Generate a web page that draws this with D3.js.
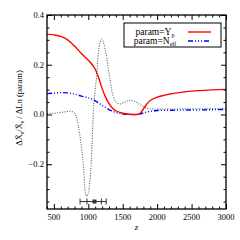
<!DOCTYPE html>
<html>
<head>
<meta charset="utf-8">
<script src="https://cdn.jsdelivr.net/npm/d3@7"></script>
<style>
  body { margin: 0; background: #fff; }
  text { font-family: "Liberation Serif", "DejaVu Serif", serif; }
  .axis path { display: none; }
  .axis line { stroke: #000; stroke-width: 1; }
</style>
</head>
<body>
<div id="chart"></div>
<script>
// data
var ypZ   = [400, 500, 600, 700, 800, 900, 1000, 1050, 1100, 1150, 1200, 1250, 1300, 1350, 1400, 1500, 1600, 1700, 1750, 1800, 1850, 1900, 2000, 2200, 2400, 2600, 2800, 3000];
var ypVal = [0.323, 0.320, 0.314, 0.300, 0.275, 0.245, 0.218, 0.203, 0.182, 0.148, 0.105, 0.070, 0.045, 0.026, 0.015, 0.005, 0.001, 0.000, 0.004, 0.022, 0.042, 0.056, 0.070, 0.083, 0.091, 0.096, 0.099, 0.101];

var neffZ   = [400, 500, 600, 700, 800, 900, 1000, 1100, 1200, 1300, 1400, 1500, 1600, 1700, 1800, 1900, 2000, 2200, 2500, 3000];
var neffVal = [0.084, 0.086, 0.088, 0.087, 0.082, 0.074, 0.067, 0.055, 0.037, 0.020, 0.008, 0.002, 0.000, 0.000, 0.006, 0.013, 0.016, 0.017, 0.018, 0.020];

var otherZ   = [400, 500, 600, 700, 760, 810, 850, 890, 920, 940, 955, 975, 1000, 1015, 1035, 1050, 1065, 1080, 1100, 1120, 1145, 1170, 1195, 1220, 1245, 1270, 1315, 1360, 1410, 1460, 1510, 1560, 1610, 1660, 1710, 1760, 1850, 1950, 2200, 2600, 3000];
var otherVal = [0.003, 0.005, 0.008, 0.012, 0.012, 0.000, -0.040, -0.110, -0.180, -0.250, -0.310, -0.328, -0.315, -0.290, -0.230, -0.140, -0.050, 0.040, 0.100, 0.150, 0.245, 0.290, 0.303, 0.290, 0.260, 0.225, 0.140, 0.075, 0.048, 0.042, 0.047, 0.054, 0.057, 0.054, 0.047, 0.038, 0.025, 0.022, 0.022, 0.023, 0.024];

// measured point with two error levels
var pointZ = 1090;
var pointVal = -0.35;
var innerErr = [980, 1190];
var outerErr = [880, 1260];

var xTicks = [500, 1000, 1500, 2000, 2500, 3000];
var yTicks = [-0.2, 0.0, 0.2, 0.4];
var legendLabels = [["param=Y", "p"], ["param=N", "eff"]];

var svgWidth = 240;
var svgHeight = 240;
var margin = {top: 15, right: 14, bottom: 31, left: 47};
var width = svgWidth - margin.left - margin.right;
var height = svgHeight - margin.top - margin.bottom;

var svg = d3.select("#chart")
  .append("svg")
  .attr("width", svgWidth)
  .attr("height", svgHeight);

var g = svg.append("g")
  .attr("transform", `translate(${margin.left}, ${margin.top})`);

var x = d3.scaleLinear().domain([400, 3000]).range([0, width]);
var y = d3.scaleLinear().domain([-0.38, 0.4]).range([height, 0]);

// minor tick positions
var xMinor = d3.range(400, 3001, 100).filter(v => v % 500 != 0);
var yMinor = d3.range(-35, 41, 5).map(v => v / 100).filter(v => Math.abs(Math.round(v * 100)) % 20 != 0);

function tickAxis(axisFn, scale, values, size, tr) {
  g.append("g")
    .attr("class", "axis")
    .attr("transform", tr)
    .call(axisFn(scale).tickValues(values).tickSize(-size).tickFormat(""));
}

// inward ticks on all four sides
tickAxis(d3.axisBottom, x, xTicks, 5, `translate(0, ${height})`);
tickAxis(d3.axisBottom, x, xMinor, 2.5, `translate(0, ${height})`);
tickAxis(d3.axisTop, x, xTicks, 5, "translate(0, 0)");
tickAxis(d3.axisTop, x, xMinor, 2.5, "translate(0, 0)");
tickAxis(d3.axisLeft, y, yTicks, 5, "translate(0, 0)");
tickAxis(d3.axisLeft, y, yMinor, 2.5, "translate(0, 0)");
tickAxis(d3.axisRight, y, yTicks, 5, `translate(${width}, 0)`);
tickAxis(d3.axisRight, y, yMinor, 2.5, `translate(${width}, 0)`);

// tick labels
g.selectAll(".xlab")
  .data(xTicks)
  .enter()
  .append("text")
  .attr("x", d => x(d))
  .attr("y", height + 11)
  .attr("text-anchor", "middle")
  .attr("font-size", 8.5)
  .text(d => d);

g.selectAll(".ylab")
  .data(yTicks)
  .enter()
  .append("text")
  .attr("x", -3)
  .attr("y", d => y(d) + 3)
  .attr("text-anchor", "end")
  .attr("font-size", 8.5)
  .text(d => (d < 0 ? "\u2212" : "") + Math.abs(d).toFixed(1));

// curves
var line = d3.line()
  .x(d => x(d[0]))
  .y(d => y(d[1]))
  .curve(d3.curveCatmullRom.alpha(0.5));

var clip = g.append("clipPath").attr("id", "clip")
  .append("rect").attr("width", width).attr("height", height);

var curves = g.append("g").attr("clip-path", "url(#clip)");

curves.append("path")
  .datum(d3.zip(otherZ, otherVal))
  .attr("d", line)
  .attr("fill", "none")
  .attr("stroke", "#557070")
  .attr("stroke-width", 1.1)
  .attr("stroke-dasharray", "1.1,1.4");

curves.append("path")
  .datum(d3.zip(neffZ, neffVal))
  .attr("d", line)
  .attr("fill", "none")
  .attr("stroke", "#0000ff")
  .attr("stroke-width", 1.4)
  .attr("stroke-dasharray", "5,2,1,2,1,2,1,2");

curves.append("path")
  .datum(d3.zip(ypZ, ypVal))
  .attr("d", line)
  .attr("fill", "none")
  .attr("stroke", "#ff0000")
  .attr("stroke-width", 1.4);

// error bar
var errColor = "#3a2a3e";
var ep = g.append("g");
ep.append("line")
  .attr("x1", x(outerErr[0])).attr("x2", x(outerErr[1]))
  .attr("y1", y(pointVal)).attr("y2", y(pointVal))
  .attr("stroke", errColor).attr("stroke-width", 1);
ep.selectAll(".cap")
  .data(innerErr.concat(outerErr))
  .enter()
  .append("line")
  .attr("x1", d => x(d)).attr("x2", d => x(d))
  .attr("y1", y(pointVal) - 3).attr("y2", y(pointVal) + 3)
  .attr("stroke", errColor).attr("stroke-width", 1);
ep.append("rect")
  .attr("x", x(pointZ) - 2).attr("y", y(pointVal) - 2)
  .attr("width", 4).attr("height", 4)
  .attr("fill", errColor);

// frame
g.append("rect")
  .attr("width", width)
  .attr("height", height)
  .attr("fill", "none")
  .attr("stroke", "#000")
  .attr("stroke-width", 1.3);

// legend
var legend = svg.append("g");
legend.append("rect")
  .attr("x", 124).attr("y", 23)
  .attr("width", 97).attr("height", 24)
  .attr("fill", "#fff")
  .attr("stroke", "#000")
  .attr("stroke-width", 1);

var legendStyles = [
  {color: "#ff0000", dash: null},
  {color: "#0000ff", dash: "5,2,1,2,1,2,1,2"}
];

legendLabels.forEach(function(lab, i) {
  var ty = 35 + i * 9;
  var t = legend.append("text")
    .attr("x", 155).attr("y", ty)
    .attr("text-anchor", "middle")
    .attr("font-size", 9.5);
  t.append("tspan").text(lab[0]);
  t.append("tspan").attr("font-size", 6).attr("dy", 2).text(lab[1]);
  legend.append("line")
    .attr("x1", 188).attr("x2", 211)
    .attr("y1", ty - 3).attr("y2", ty - 3)
    .attr("stroke", legendStyles[i].color)
    .attr("stroke-width", 1.4)
    .attr("stroke-dasharray", legendStyles[i].dash);
});

// axis titles
svg.append("text")
  .attr("x", margin.left + x(1700))
  .attr("y", 230)
  .attr("text-anchor", "middle")
  .attr("font-size", 9)
  .attr("font-style", "italic")
  .text("z");

var yt = svg.append("text")
  .attr("transform", "translate(22, 108) rotate(-90)")
  .attr("text-anchor", "middle")
  .attr("font-size", 8.5);
yt.append("tspan").text("\u0394X\u0304");
yt.append("tspan").attr("font-size", 5.5).attr("dy", 2).text("e");
yt.append("tspan").attr("dy", -2).text("/X\u0304");
yt.append("tspan").attr("font-size", 5.5).attr("dy", 2).text("e");
yt.append("tspan").attr("dy", -2).text(" / \u0394Ln (param)");
</script>
</body>
</html>
